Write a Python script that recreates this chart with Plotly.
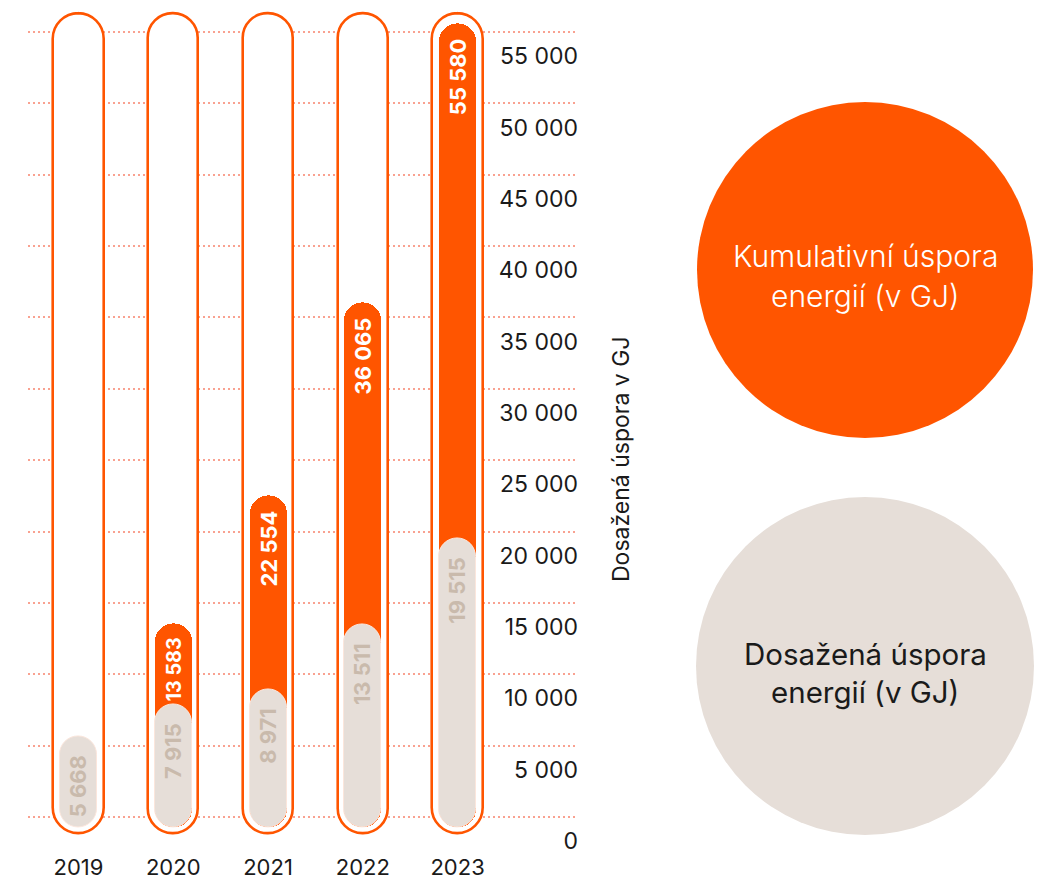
import plotly.graph_objects as go

# ---- data ----
years = ["2019", "2020", "2021", "2022", "2023"]
cumulative = [None, 13583, 22554, 36065, 55580]   # Kumulativní úspora energií (GJ)
annual = [5668, 7915, 8971, 13511, 19515]          # Dosažená úspora energií (GJ)
tick_values = [0, 5000, 10000, 15000, 20000, 25000, 30000, 35000, 40000, 45000, 50000, 55000]
legend_lines = [["Kumulativní úspora", "energií (v GJ)"], ["Dosažená úspora", "energií (v GJ)"]]
axis_title = "Dosažená úspora v GJ"


def fmt(v):
    return f"{v:,}".replace(",", " ")


# ---- style ----
W, H = 1048, 879
ORANGE = "#FF5500"
BEIGE = "#E6DED8"
BEIGE_TXT = "#C9BAAC"
GRID = "#F9A190"
DARK = "#1A1A1A"
FONT = "Inter"
PAD = "\u00a0\u2009"   # small gap between bar end and its label

FRAME_TOP = 56300
FRAME_BOT = -1180
BAR_BOT = -700

x = list(range(len(years)))
n = len(years)

fig = go.Figure()


def capsule(top, bottom, width, color, name, text=None, textcolor=None, line=None):
    fig.add_trace(go.Bar(
        x=x, y=[None if t is None else t - bottom for t in top], base=[bottom] * n,
        width=width,
        marker=dict(color=color, line=line or dict(width=0), cornerradius="50%"),
        text=text, textposition="inside" if text else "none",
        insidetextanchor="end", textangle=-90,
        textfont=dict(family=FONT, size=22, weight=700, color=textcolor),
        customdata=top, hovertemplate="%{customdata}<extra></extra>",
        showlegend=False, name=name))


capsule([FRAME_TOP] * n, FRAME_BOT, 0.533, "white", "frame",
        line=dict(color=ORANGE, width=2.6))
capsule(cumulative, BAR_BOT, 0.39, ORANGE, "Kumulativní")
capsule(annual, BAR_BOT, 0.39, BEIGE, "Dosažená",
        text=[fmt(a) + PAD for a in annual], textcolor=BEIGE_TXT,
        line=dict(color="#FBE6DC", width=1))

# labels of the cumulative bars: drawn on the visible orange part, above the beige bars
seg_base = [a if c is not None else None for a, c in zip(annual, cumulative)]
seg_len = [None if c is None else c - a for a, c in zip(annual, cumulative)]
fig.add_trace(go.Bar(
    x=x, y=seg_len, base=seg_base, width=0.39,
    marker=dict(color="rgba(0,0,0,0)", line=dict(width=0)),
    text=[None if c is None else fmt(c) + PAD + "\u2009" for c in cumulative],
    textposition="inside", insidetextanchor="end", textangle=-90,
    textfont=dict(family=FONT, size=22, weight=700, color="white"),
    hoverinfo="skip", showlegend=False, name="Kumulativní labels"))

fig.update_layout(
    width=W, height=H,
    margin=dict(l=0, r=0, t=0, b=0, autoexpand=False),
    paper_bgcolor="white", plot_bgcolor="white",
    barmode="overlay",
    bargap=0,
    font=dict(family=FONT, color=DARK),
    xaxis=dict(
        domain=[28 / W, 578 / W], range=[-0.532, 5.27],
        tickvals=x, ticktext=years, showgrid=False, zeroline=False,
        showline=False, ticks="", tickfont=dict(size=22, color=DARK, family=FONT),
        ticklabelstandoff=16,
        automargin=False, fixedrange=True,
    ),
    yaxis=dict(
        domain=[43.4 / H, 875.55 / H], range=[-1300, 57000],
        anchor="free", position=578 / W, side="left",
        tickvals=tick_values, ticktext=[fmt(v) for v in tick_values],
        ticklabelposition="outside bottom", ticklabelshift=8,
        showgrid=True, gridcolor=GRID, griddash="2px,3px", gridwidth=2,
        zeroline=False, showline=False, ticks="",
        tickfont=dict(size=23, color=DARK, family=FONT),
        automargin=False, fixedrange=True,
    ),
    shapes=[
        dict(type="circle", xref="paper", yref="paper", layer="below",
             x0=697 / W, x1=1033 / W, y0=1 - 438 / H, y1=1 - 102 / H,
             fillcolor=ORANGE, line=dict(width=0)),
        dict(type="circle", xref="paper", yref="paper", layer="below",
             x0=696 / W, x1=1034 / W, y0=1 - 835 / H, y1=1 - 497 / H,
             fillcolor=BEIGE, line=dict(width=0)),
    ],
)

ann = [dict(text=axis_title, xref="paper", yref="paper", x=621 / W, y=1 - 459 / H,
            xanchor="center", yanchor="middle",
            textangle=-90, showarrow=False, font=dict(size=23, color=DARK, family=FONT))]
legend_pos = [(256, 296), (654, 692)]
legend_col = ["white", DARK]
legend_wt = [300, 400]
legend_sz = [30, 29.5]
for lines, ys, col, wt, sz in zip(legend_lines, legend_pos, legend_col, legend_wt, legend_sz):
    for line, yy in zip(lines, ys):
        ann.append(dict(text=line, xref="paper", yref="paper", x=865 / W, y=1 - yy / H,
                        xanchor="center", yanchor="middle",
                        showarrow=False, font=dict(size=sz, color=col, family=FONT, weight=wt)))
fig.update_layout(annotations=ann)

fig.write_html("out.html", config={"displayModeBar": False},
               post_script="document.body.style.margin='0';")
